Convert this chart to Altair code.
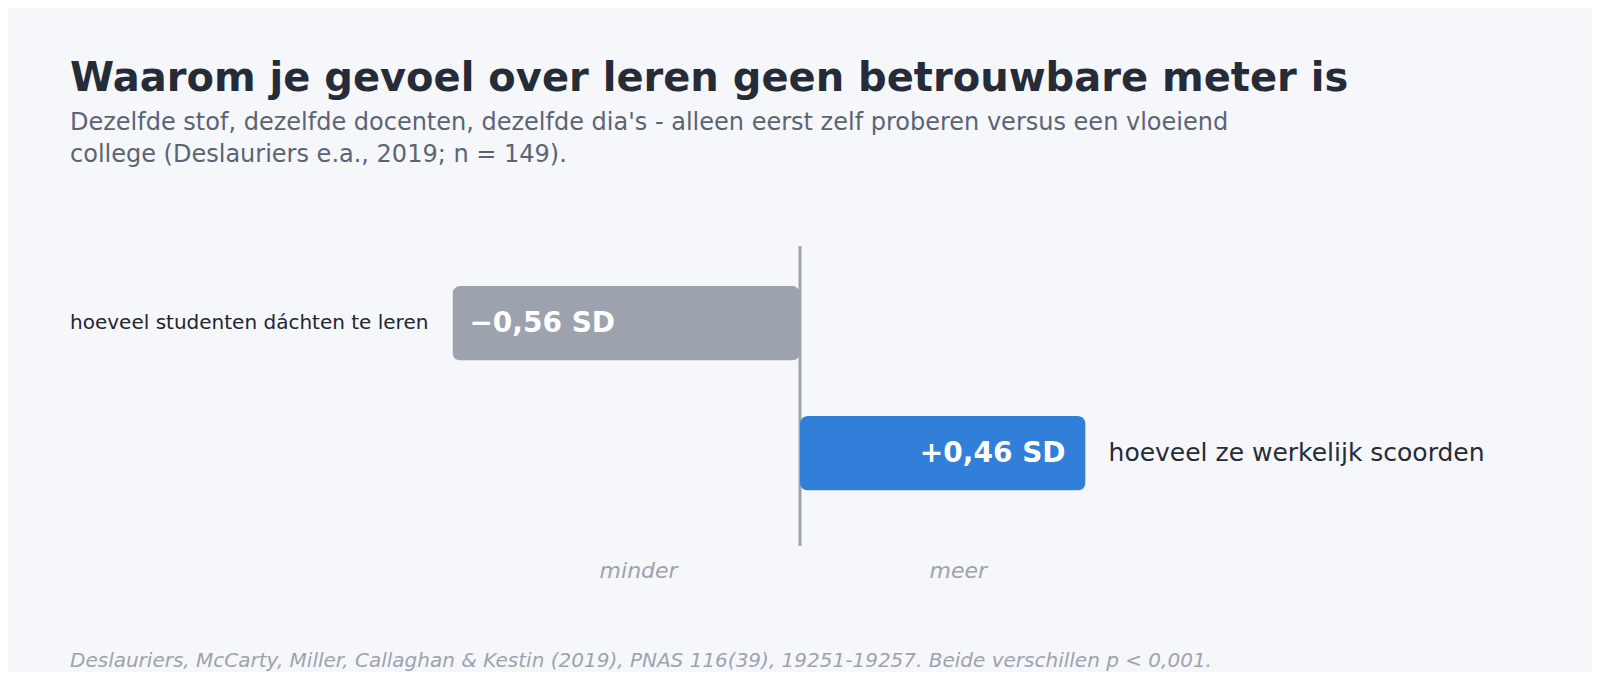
import altair as alt
import pandas as pd

# data
rows = ["hoeveel studenten dáchten te leren", "hoeveel ze werkelijk scoorden"]
effects = [-0.56, 0.46]
effect_labels = ["\u22120,56 SD", "+0,46 SD"]
bar_colors = ["#9ca3af", "#317fd8"]

directions = ["minder", "meer"]
direction_pos = [-0.26, 0.255]

title = "Waarom je gevoel over leren geen betrouwbare meter is"
subtitle = [
    "Dezelfde stof, dezelfde docenten, dezelfde dia's - alleen eerst zelf proberen versus een vloeiend",
    "college (Deslauriers e.a., 2019; n = 149).",
]
footer = ("Deslauriers, McCarty, Miller, Callaghan & Kestin (2019), PNAS 116(39), "
          "19251-19257. Beide verschillen p < 0,001.")

FONT = "DejaVu Sans"
BG = "#f6f7fb"

source = pd.DataFrame({
    "row": rows,
    "value": effects,
    "label": effect_labels,
    "color": bar_colors,
})
dir_source = pd.DataFrame({"word": directions, "pos": direction_pos})
zero_source = pd.DataFrame({"zero": [0.0]})
note_source = pd.DataFrame({"t": [footer]})


class DivergingBars():

    def __init__(self, width=1460, height=300):
        self.width = width
        self.height = height

    def compute(self, source, dir_source):
        x_scale = alt.Scale(domain=[-1.176, 1.176], nice=False)
        y_enc = alt.Y(
            "row:N",
            sort=rows,
            axis=None,
            scale=alt.Scale(paddingInner=0.427, paddingOuter=0.367, align=0.419),
        )
        base = alt.Chart(source).encode(y=y_enc)

        zero = alt.Chart(zero_source).mark_rule(color="#9ca3af", strokeWidth=3).encode(
            x=alt.X("zero:Q", scale=x_scale, axis=None)
        )

        bars = base.mark_bar(cornerRadius=8).encode(
            x=alt.X("value:Q", scale=x_scale, axis=None),
            color=alt.Color("color:N", scale=None, legend=None),
        )

        neg = base.transform_filter("datum.value < 0")
        pos = base.transform_filter("datum.value >= 0")

        value_neg = neg.mark_text(
            align="left", baseline="middle", dx=17, dy=1, font=FONT,
            fontSize=28, fontWeight="bold", color="white"
        ).encode(x=alt.X("value:Q", scale=x_scale), text="label:N")
        value_pos = pos.mark_text(
            align="right", baseline="middle", dx=-20, dy=1, font=FONT,
            fontSize=28, fontWeight="bold", color="white"
        ).encode(x=alt.X("value:Q", scale=x_scale), text="label:N")

        row_neg = neg.mark_text(
            align="right", baseline="middle", dx=-24, font=FONT,
            fontSize=20, color="#1f2530"
        ).encode(x=alt.X("value:Q", scale=x_scale), text="row:N")
        row_pos = pos.mark_text(
            align="left", baseline="middle", dx=23, font=FONT,
            fontSize=25, color="#262c37"
        ).encode(x=alt.X("value:Q", scale=x_scale), text="row:N")

        words = alt.Chart(dir_source).mark_text(
            align="center", baseline="middle", font=FONT, fontSize=22,
            fontStyle="italic", color="#9ca3af"
        ).encode(
            x=alt.X("pos:Q", scale=x_scale),
            y=alt.value(325),
            text="word:N",
        )

        note = alt.Chart(note_source).mark_text(
            align="left", baseline="middle", font=FONT, fontSize=20,
            fontStyle="italic", color="#9ca3af"
        ).encode(x=alt.value(0), y=alt.value(415), text="t:N")

        chart = alt.layer(
            zero, bars, value_neg, value_pos, row_neg, row_pos, words, note
        ).properties(
            width=self.width,
            height=self.height,
            title=alt.TitleParams(
                text=title,
                subtitle=subtitle,
                anchor="start",
                frame="group",
                font=FONT,
                fontSize=40,
                fontWeight="bold",
                color="#262c37",
                subtitleFont=FONT,
                subtitleFontSize=24,
                subtitleColor="#5b6475",
                subtitleLineHeight=32,
                subtitlePadding=12,
                offset=78,
            ),
            padding={"left": 62, "top": 238, "right": 62, "bottom": 126},
            autosize=alt.AutoSizeParams(type="none"),
        ).configure(
            background=BG,
        ).configure_view(stroke=None)
        return chart


chart = DivergingBars().compute(source, dir_source)
chart.save("out.html", embed_options={"renderer": "svg", "actions": False})
